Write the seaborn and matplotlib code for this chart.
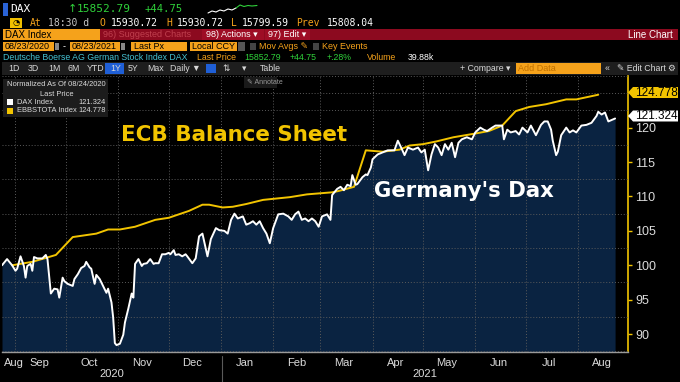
import pandas as pd
import numpy as np
import matplotlib.pyplot as plt
import matplotlib.patches as patches
import matplotlib.lines as mlines
import seaborn as sns

# DAX, normalized to 100 on 08/24/2020
dax_dates = [
    "2020-08-24", "2020-08-27", "2020-08-30", "2020-09-01", "2020-09-02", "2020-09-04", "2020-09-06",
    "2020-09-07", "2020-09-08", "2020-09-10", "2020-09-11", "2020-09-12", "2020-09-14", "2020-09-17",
    "2020-09-19", "2020-09-20", "2020-09-22", "2020-09-24", "2020-09-26", "2020-09-27", "2020-09-29",
    "2020-09-30", "2020-10-02", "2020-10-05", "2020-10-06", "2020-10-08", "2020-10-10", "2020-10-12",
    "2020-10-13", "2020-10-15", "2020-10-16", "2020-10-18", "2020-10-19", "2020-10-21", "2020-10-23",
    "2020-10-25", "2020-10-26", "2020-10-28", "2020-10-29", "2020-10-30", "2020-10-31", "2020-11-02",
    "2020-11-04", "2020-11-05", "2020-11-07", "2020-11-09", "2020-11-10", "2020-11-11", "2020-11-13",
    "2020-11-15", "2020-11-16", "2020-11-18", "2020-11-20", "2020-11-22", "2020-11-23", "2020-11-25",
    "2020-11-27", "2020-11-29", "2020-12-01", "2020-12-02", "2020-12-04", "2020-12-05", "2020-12-07",
    "2020-12-09", "2020-12-11", "2020-12-12", "2020-12-15", "2020-12-17", "2020-12-19", "2020-12-21",
    "2020-12-24", "2020-12-26", "2020-12-29", "2020-12-31", "2021-01-03", "2021-01-05", "2021-01-07",
    "2021-01-09", "2021-01-11", "2021-01-14", "2021-01-16", "2021-01-18", "2021-01-20", "2021-01-22",
    "2021-01-24", "2021-01-26", "2021-01-28", "2021-01-30", "2021-02-01", "2021-02-04", "2021-02-07",
    "2021-02-10", "2021-02-12", "2021-02-14", "2021-02-16", "2021-02-18", "2021-02-20", "2021-02-22",
    "2021-02-24", "2021-02-26", "2021-02-28", "2021-03-02", "2021-03-05", "2021-03-07", "2021-03-08",
    "2021-03-11", "2021-03-13", "2021-03-15", "2021-03-17", "2021-03-19", "2021-03-20", "2021-03-22",
    "2021-03-23", "2021-03-26", "2021-03-28", "2021-03-29", "2021-03-31", "2021-04-01", "2021-04-04",
    "2021-04-07", "2021-04-10", "2021-04-14", "2021-04-16", "2021-04-18", "2021-04-20", "2021-04-22",
    "2021-04-25", "2021-04-28", "2021-04-30", "2021-05-02", "2021-05-04", "2021-05-06", "2021-05-08",
    "2021-05-10", "2021-05-12", "2021-05-14", "2021-05-16", "2021-05-18", "2021-05-20", "2021-05-22",
    "2021-05-24", "2021-05-27", "2021-05-30", "2021-06-01", "2021-06-04", "2021-06-06", "2021-06-08",
    "2021-06-11", "2021-06-13", "2021-06-17", "2021-06-18", "2021-06-20", "2021-06-22", "2021-06-25",
    "2021-06-27", "2021-06-29", "2021-07-02", "2021-07-04", "2021-07-07", "2021-07-10", "2021-07-12",
    "2021-07-14", "2021-07-16", "2021-07-17", "2021-07-19", "2021-07-20", "2021-07-22", "2021-07-25",
    "2021-07-27", "2021-07-29", "2021-07-31", "2021-08-03", "2021-08-06", "2021-08-09", "2021-08-12",
    "2021-08-13", "2021-08-15", "2021-08-17", "2021-08-19", "2021-08-23",
]
dax_values = [
    100.0, 100.9, 100.0, 99.2, 99.5, 101.3, 99.9,
    98.2, 99.9, 100.2, 99.2, 101.2, 101.0, 101.0,
    101.5, 100.9, 95.9, 96.6, 96.5, 95.3, 98.2,
    97.7, 97.3, 97.0, 98.0, 98.7, 99.6, 99.9,
    100.5, 99.7, 99.5, 97.3, 98.6, 98.0, 97.0,
    96.0, 96.6, 94.6, 92.4, 88.7, 88.4, 88.6,
    89.9, 91.7, 93.7, 95.9, 95.3, 100.2, 100.9,
    99.9, 100.2, 100.3, 100.9, 100.2, 100.3, 100.3,
    101.6, 101.6, 101.8, 101.6, 102.2, 101.5, 101.6,
    101.3, 101.6, 101.3, 100.3, 101.0, 104.2, 104.6,
    101.3, 103.8, 105.4, 105.1, 105.0, 104.6, 106.6,
    107.5, 106.8, 107.1, 105.9, 106.1, 106.4, 105.9,
    106.4, 105.4, 104.6, 103.2, 105.4, 107.4, 107.5,
    107.1, 106.6, 107.4, 107.8, 106.6, 106.8, 106.4,
    106.8, 106.4, 105.6, 107.1, 107.4, 106.6, 110.2,
    111.1, 111.4, 110.9, 111.7, 111.5, 113.1, 111.7,
    111.8, 112.8, 113.2, 113.1, 114.2, 115.4, 116.1,
    116.4, 116.7, 116.7, 118.1, 117.1, 116.0, 117.1,
    116.8, 117.1, 116.4, 116.8, 113.8, 116.1, 117.6,
    117.1, 116.0, 117.6, 116.8, 117.8, 115.7, 117.8,
    118.3, 118.6, 118.3, 119.3, 120.0, 119.7, 119.5,
    120.0, 120.3, 120.3, 118.3, 119.7, 119.3, 119.5,
    119.0, 120.0, 119.3, 120.3, 118.9, 120.4, 120.9,
    120.9, 119.7, 118.1, 116.0, 116.5, 118.9, 120.0,
    119.3, 119.6, 119.3, 120.3, 120.4, 120.7, 121.7,
    122.3, 121.9, 122.2, 120.9, 121.324,
]

# ECB balance sheet (EBBSTOTA), normalized
ecb_dates = [
    "2020-08-30", "2020-09-11", "2020-09-25", "2020-10-05", "2020-10-19", "2020-10-26", "2020-11-02",
    "2020-11-11", "2020-11-23", "2020-12-01", "2020-12-13", "2020-12-21", "2020-12-25", "2021-01-02",
    "2021-01-08", "2021-01-16", "2021-01-26", "2021-02-11", "2021-02-21", "2021-03-08", "2021-03-12",
    "2021-03-21", "2021-03-28", "2021-04-07", "2021-04-17", "2021-04-23", "2021-05-01", "2021-05-09",
    "2021-05-19", "2021-05-31", "2021-06-09", "2021-06-17", "2021-06-25", "2021-07-03", "2021-07-13",
    "2021-07-25", "2021-07-31", "2021-08-13",
]
ecb_values = [
    100.0, 100.5, 101.5, 104.1, 104.6, 105.2, 105.2,
    105.6, 106.6, 106.9, 107.9, 108.8, 108.8, 108.4,
    108.5, 108.9, 109.5, 109.9, 110.3, 110.6, 110.8,
    111.4, 116.7, 116.5, 116.8, 117.4, 117.6, 118.0,
    118.6, 119.1, 119.5, 120.3, 122.4, 123.0, 123.4,
    124.1, 124.1, 124.778,
]

month_labels = ["Aug", "Sep", "Oct", "Nov", "Dec", "Jan", "Feb", "Mar", "Apr", "May", "Jun", "Jul", "Aug"]
year_labels = ["2020", "2021"]
y_ticks = [90, 95, 100, 105, 110, 115, 120]

dax = pd.DataFrame({"date": pd.to_datetime(dax_dates), "value": dax_values})
ecb = pd.DataFrame({"date": pd.to_datetime(ecb_dates), "value": ecb_values})

sns.set_theme(style="dark")
plt.rcParams["font.family"] = ["Liberation Sans", "DejaVu Sans"]

BG = "black"
ORANGE = "#f5a21b"
RED = "#8c0a1f"
GREEN = "#2fd13a"
YELLOW = "#f2c400"
NAVY = "#0a2341"
GRID = "#5a5a5a"
LIGHT = "#dcdcdc"

W, H = 680, 382
fig = plt.figure(figsize=(6.8, 3.82), dpi=100, facecolor=BG)


def fx(x):
    return x / W


def fy(y):
    return 1 - y / H


def txt(x, y, s, color="white", size=6.5, **kw):
    kw.setdefault("va", "center")
    fig.text(fx(x), fy(y), s, color=color, fontsize=size, **kw)


def box(x0, y0, x1, y1, color):
    fig.add_artist(patches.Rectangle((fx(x0), fy(y1)), fx(x1 - x0), (y1 - y0) / H,
                                     transform=fig.transFigure, facecolor=color, edgecolor="none"))


# ---- main chart ----
ax = fig.add_axes([fx(2), fy(352), fx(626), 276 / H])
ax.set_facecolor(BG)

ax.fill_between(dax["date"], dax["value"], 80, color=NAVY, zorder=1, lw=0)
sns.lineplot(data=dax, x="date", y="value", ax=ax, color="white", lw=1.4, zorder=4)
sns.lineplot(data=ecb, x="date", y="value", ax=ax, color=YELLOW, lw=1.4, zorder=3)

ax.set_xlim(pd.Timestamp("2020-08-24"), pd.Timestamp("2021-08-30 16:00"))
ax.set_ylim(87.4, 127.0)
ax.set_xlabel("")
ax.set_ylabel("")

# y axis on the right
ax.yaxis.tick_right()
ax.set_yticks(y_ticks)
ax.set_yticks(np.arange(87.5, 127.6, 2.5), minor=True)
ax.tick_params(axis="y", which="major", colors=YELLOW, labelcolor=LIGHT, labelsize=9,
               length=3, width=1, direction="out", pad=2, right=True, left=False)
ax.tick_params(axis="y", which="minor", length=0)

# x axis: grid at month starts, labels mid-month
month_starts = pd.date_range("2020-09-01", "2021-08-01", freq="MS")
label_pos = list(pd.date_range("2020-08-01", "2021-08-01", freq="MS") + pd.Timedelta(days=14))
label_pos[0] = pd.Timestamp("2020-08-31")
ax.set_xticks(month_starts)
ax.set_xticklabels([])
ax.set_xticks(label_pos, minor=True)
ax.set_xticklabels(month_labels, minor=True)
ax.tick_params(axis="x", which="both", length=0, labelcolor=LIGHT, labelsize=8, pad=4)

ax.grid(False)
ax.grid(True, axis="y", which="minor", color=GRID, ls=(0, (1, 2)), lw=0.7, zorder=2)
ax.grid(True, axis="x", which="major", color=GRID, ls=(0, (1, 2)), lw=0.7, zorder=2)
ax.set_axisbelow(False)

for side in ["top", "left"]:
    ax.spines[side].set_visible(False)
ax.spines["right"].set_color(YELLOW)
ax.spines["right"].set_linewidth(1.2)
ax.spines["bottom"].set_color("#9a9a9a")
ax.spines["bottom"].set_linewidth(1)

# years under months
txt(112, 374, year_labels[0], color=LIGHT, size=8, ha="center")
txt(425, 374, year_labels[1], color=LIGHT, size=8, ha="center")
fig.add_artist(mlines.Line2D([fx(222), fx(222)], [fy(356), fy(382)], transform=fig.transFigure,
                             color="#5a5a5a", lw=0.8))

# annotations
txt(121, 135, "ECB Balance Sheet", color=YELLOW, size=15.4, weight="bold", family="DejaVu Sans")
txt(374, 191, "Germany's Dax", color="white", size=15.3, weight="bold", family="DejaVu Sans")

# last value tags
fig.add_artist(patches.Polygon([(fx(628), fy(92.5)), (fx(633), fy(87)), (fx(678), fy(87)),
                                (fx(678), fy(98)), (fx(633), fy(98))],
                               transform=fig.transFigure, facecolor=YELLOW, edgecolor="none"))
txt(656, 92.5, "124.778", color="black", size=8.5, ha="center")
fig.add_artist(patches.Polygon([(fx(628), fy(116)), (fx(633), fy(110.5)), (fx(678), fy(110.5)),
                                (fx(678), fy(121.5)), (fx(633), fy(121.5))],
                               transform=fig.transFigure, facecolor="white", edgecolor="none"))
txt(656, 116, "121.324", color="black", size=8.5, ha="center")

# legend box
box(3, 79, 108, 117, "#1c1c1c")
txt(7, 85, "Normalized As Of 08/24/2020", color=LIGHT, size=5.4)
txt(57, 94, "Last Price", color=LIGHT, size=5.4, ha="center")
box(7, 99, 13, 105, "white")
txt(17, 102, "DAX Index", color=LIGHT, size=5.4)
txt(78, 102, "121.324", color=LIGHT, size=5.4)
box(7, 107.5, 13, 113.5, YELLOW)
txt(17, 110.5, "EBBSTOTA Index", color=LIGHT, size=5.4)
txt(78, 110.5, "124.778", color=LIGHT, size=5.4)

# annotate button
box(244, 77, 277, 88, "#1a1a1a")
txt(247, 82.5, "\u270e Annotate", color="#9a9a9a", size=5)

# ---- terminal header ----
mono = "DejaVu Sans Mono"
box(3, 3, 8, 16, "#2a63d6")
txt(10, 9.5, "DAX", color="white", size=8, family=mono)
txt(68, 9.5, "\u2191", color=GREEN, size=8, family="DejaVu Sans")
txt(77, 9.5, "15852.79", color=GREEN, size=8, family=mono)
txt(145, 9.5, "+44.75", color=GREEN, size=7.6, family=mono)
spark_x = [208, 212, 216, 220, 224, 228, 232, 236]
spark_y = [13, 11, 12, 10, 11, 9, 10, 8]
fig.add_artist(mlines.Line2D([fx(v) for v in spark_x], [fy(v) for v in spark_y],
                             transform=fig.transFigure, color="white", lw=0.8))
spark_x2 = [236, 240, 244, 248, 252, 257]
spark_y2 = [8, 5, 6.5, 5.5, 6, 5.5]
fig.add_artist(mlines.Line2D([fx(v) for v in spark_x2], [fy(v) for v in spark_y2],
                             transform=fig.transFigure, color=GREEN, lw=0.8))

box(10, 18, 22, 28, "#f0c000")
txt(16, 23, "\u25d4", color="black", size=6, ha="center", family="DejaVu Sans")
txt(30, 23, "At", color=ORANGE, size=7, family=mono)
txt(48, 23, "18:30 d", color="#c8c8c8", size=7, family=mono)
row2 = [(100, "O", ORANGE), (111, "15930.72", "white"), (166, "H", ORANGE), (177, "15930.72", "white"),
        (231, "L", ORANGE), (242, "15799.59", "white"), (296, "Prev", ORANGE), (327, "15808.04", "white")]
for x, s, c in row2:
    txt(x, 23, s, color=c, size=7, family=mono)

box(3, 29, 100, 40, ORANGE)
txt(5, 34.5, "DAX Index", color="black", size=7)
box(100, 29, 678, 40, RED)
txt(103, 34.5, "96) Suggested Charts", color="#c0404f", size=6.5)
box(202, 29, 264, 40, "#9e0d25")
txt(206, 34.5, "98) Actions \u25be", color="white", size=6.5)
box(265, 29, 310, 40, "#9e0d25")
txt(268, 34.5, "97) Edit \u25be", color="white", size=6.5)
txt(673, 34.5, "Line Chart", color="white", size=7, ha="right")

box(3, 42, 54, 51, ORANGE)
txt(5, 46.5, "08/23/2020", color="black", size=6.5)
box(55, 43, 59, 50, "#888888")
txt(63, 46.5, "-", color="white", size=6.5)
box(70, 42, 120, 51, ORANGE)
txt(72, 46.5, "08/23/2021", color="black", size=6.5)
box(121, 43, 125, 50, "#888888")
box(131, 42, 187, 51, ORANGE)
txt(134, 46.5, "Last Px", color="black", size=6.5)
box(190, 42, 237, 51, ORANGE)
txt(192, 46.5, "Local CCY", color="black", size=6.5)
box(238, 42, 245, 51, "#555555")
box(250, 43, 256, 50, "#444444")
txt(259, 46.5, "Mov Avgs \u270e", color=ORANGE, size=6.5)
box(313, 43, 319, 50, "#444444")
txt(322, 46.5, "Key Events", color=ORANGE, size=6.5)

txt(3, 57, "Deutsche Boerse AG German Stock Index DAX", color="#45c2d4", size=6.3)
row5 = [(197, "Last Price", ORANGE), (244, "15852.79", GREEN), (290, "+44.75", GREEN),
        (327, "+.28%", GREEN), (367, "Volume", ORANGE), (408, "39.88k", "white")]
for x, s, c in row5:
    txt(x, 57, s, color=c, size=6.3)

box(2, 62, 678, 75, "#1e1e1e")
box(105, 63, 124, 74, "#1f5fd6")
tool = [(8, "1D"), (28, "3D"), (48, "1M"), (67, "6M"), (87, "YTD"), (110, "1Y"), (128, "5Y"),
        (147, "Max"), (170, "Daily \u25bc"), (222, "\u21c5"), (242, "\u25be"), (260, "Table"),
        (460, "+ Compare \u25be"), (605, "\u00ab"), (617, "\u270e Edit Chart"), (667, "\u2699")]
for x, s in tool:
    txt(x, 68.5, s, color="#d8d8d8", size=6.3)
box(206, 64, 216, 73, "#1f5fd6")
box(516, 63, 601, 74, ORANGE)
txt(518, 68.5, "Add Data", color="#c07000", size=6.5)

fig.savefig("out.png", dpi=100, facecolor=BG)
